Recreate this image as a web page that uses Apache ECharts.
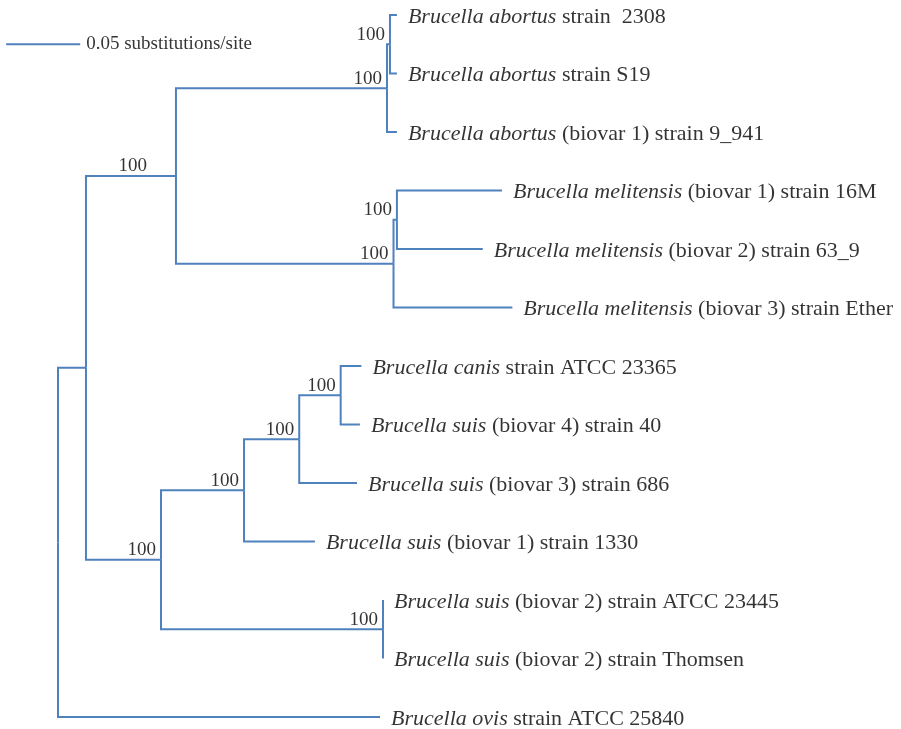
<!DOCTYPE html>
<html>
<head>
<meta charset="utf-8">
<script src="https://cdn.jsdelivr.net/npm/echarts@6/dist/echarts.min.js"></script>
<style>html,body{margin:0;padding:0;background:#fff;}#chart{width:901px;height:729px;}</style>
</head>
<body>
<div id="chart"></div>
<script>
// ---- Data (branch depths in substitutions/site, leaf rows top->bottom) ----
const leafSpecies = [
  'Brucella abortus', 'Brucella abortus', 'Brucella abortus',
  'Brucella melitensis', 'Brucella melitensis', 'Brucella melitensis',
  'Brucella canis', 'Brucella suis', 'Brucella suis', 'Brucella suis',
  'Brucella suis', 'Brucella suis', 'Brucella ovis'
];
const leafStrain = [
  ' strain  2308', ' strain S19', ' (biovar 1) strain 9_941',
  ' (biovar 1) strain 16M', ' (biovar 2) strain 63_9', ' (biovar 3) strain Ether',
  ' strain ATCC 23365', ' (biovar 4) strain 40', ' (biovar 3) strain 686', ' (biovar 1) strain 1330',
  ' (biovar 2) strain ATCC 23445', ' (biovar 2) strain Thomsen', ' strain ATCC 25840'
];
const leafDepth = [0.229, 0.229, 0.229, 0.300, 0.287, 0.307, 0.205, 0.204, 0.202, 0.1736, 0.2196, 0.2196, 0.2176];

// internal nodes: id, depth, children (leaf index numbers or node ids), bootstrap support
const nodeIds      = ['root', 'nA', 'nB', 'nAb', 'nAbi', 'nMe', 'nMei', 'nC', 'nD', 'nE', 'nF', 'nS2'];
const nodeDepth    = [0, 0.0189, 0.0797, 0.2223, 0.2243, 0.2267, 0.229, 0.0696, 0.1257, 0.163, 0.191, 0.2196];
const nodeChildren = [['nA', 12], ['nB', 'nC'], ['nAb', 'nMe'], ['nAbi', 2], [0, 1], ['nMei', 5], [3, 4],
                      ['nD', 'nS2'], ['nE', 9], ['nF', 8], [6, 7], [10, 11]];
const nodeSupport  = [null, null, 100, 100, 100, 100, 100, 100, 100, 100, 100, 100];

const scaleBarLength = 0.05;
const scaleBarLabel = '0.05 substitutions/site';

// ---- Layout ----
const nodeY = {};
function yOf(c) {
  if (typeof c === 'number') return c;
  if (nodeY[c] !== undefined) return nodeY[c];
  const i = nodeIds.indexOf(c);
  const ys = nodeChildren[i].map(yOf);
  nodeY[c] = (Math.min.apply(null, ys) + Math.max.apply(null, ys)) / 2;
  return nodeY[c];
}
function xOf(c) {
  return typeof c === 'number' ? leafDepth[c] : nodeDepth[nodeIds.indexOf(c)];
}
nodeIds.forEach(yOf);

const branches = [];
nodeIds.forEach((id, i) => {
  nodeChildren[i].forEach(c => {
    branches.push([nodeDepth[i], nodeY[id], xOf(c), yOf(c)]);
  });
});
branches.push([-0.035, 0.5, -0.035 + scaleBarLength, 0.5]);

const color = '#4F81BD';
const serif = '"Liberation Serif", "Times New Roman", serif';

const leafLabelData = leafDepth.map((d, i) => ({
  value: [d, i],
  label: { formatter: '{i|' + leafSpecies[i] + '}{n|' + leafStrain[i] + '}' }
}));

const labelNudge = { nB: -24 };
const supportData = [];
nodeIds.forEach((id, i) => {
  if (nodeSupport[i] == null) return;
  supportData.push({
    value: [nodeDepth[i], nodeY[id]],
    label: { formatter: String(nodeSupport[i]), position: [-5 + (labelNudge[id] || 0), 0] }
  });
});

const chart = echarts.init(document.getElementById('chart'), null, { renderer: 'canvas' });
chart.setOption({
  animation: false,
  backgroundColor: '#fff',
  grid: { left: 6.2, right: 14.2, top: 15, bottom: 12, containLabel: false },
  xAxis: { type: 'value', min: -0.035, max: 0.56, show: false },
  yAxis: { type: 'value', min: 0, max: 12, inverse: true, show: false },
  series: [
    {
      type: 'custom',
      coordinateSystem: 'cartesian2d',
      data: branches,
      clip: false,
      renderItem: function (params, api) {
        const a = api.coord([api.value(0), api.value(1)]);
        const b = api.coord([api.value(2), api.value(3)]);
        const pts = (api.value(1) === api.value(3)) ? [a, b] : [a, [a[0], b[1]], b];
        return {
          type: 'polyline',
          shape: { points: pts },
          style: { stroke: color, lineWidth: 2, fill: null, lineJoin: 'miter', lineCap: 'butt' }
        };
      }
    },
    {
      type: 'scatter',
      symbolSize: 0,
      data: leafLabelData,
      silent: true,
      label: {
        show: true,
        position: 'right',
        distance: 11,
        offset: [0, 2],
        color: '#000',
        fontFamily: serif,
        fontSize: 22,
        rich: {
          i: { fontFamily: serif, fontSize: 22, fontStyle: 'italic', color: '#000' },
          n: { fontFamily: serif, fontSize: 22, color: '#000' }
        }
      }
    },
    {
      type: 'scatter',
      symbolSize: 0,
      data: supportData,
      silent: true,
      label: {
        show: true,
        align: 'right',
        verticalAlign: 'bottom',
        fontFamily: serif,
        fontSize: 19,
        color: '#000'
      }
    },
    {
      type: 'scatter',
      symbolSize: 0,
      silent: true,
      data: [[-0.035 + scaleBarLength, 0.5]],
      label: {
        show: true,
        position: 'right',
        distance: 6,
        formatter: scaleBarLabel,
        fontFamily: serif,
        fontSize: 19,
        color: '#000'
      }
    }
  ]
});
</script>
</body>
</html>
